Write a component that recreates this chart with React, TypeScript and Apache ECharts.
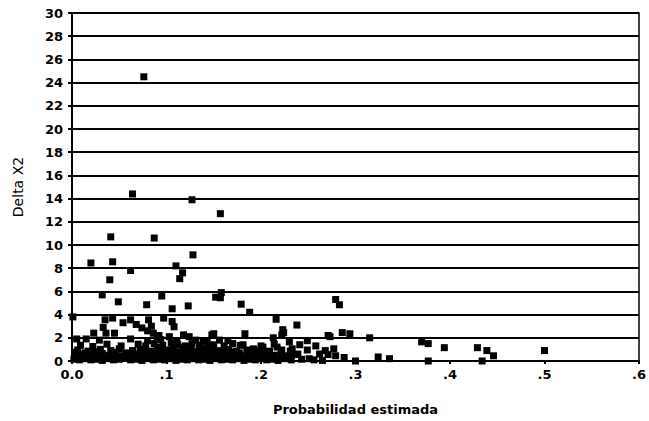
import React, { useEffect, useRef } from "react";
import * as echarts from "echarts";

const xTicks = [0, 0.1, 0.2, 0.3, 0.4, 0.5, 0.6];
const xTickLabels = ["0.0", ".1", ".2", ".3", ".4", ".5", ".6"];
const yMin = 0;
const yMax = 30;
const yStep = 2;

const outlierPoints: [number, number][] = [
  [0.076, 24.5], [0.064, 14.4], [0.127, 13.9], [0.157, 12.7], [0.041, 10.7], [0.087, 10.6],
  [0.02, 8.45], [0.043, 8.55], [0.062, 7.8], [0.11, 8.2], [0.128, 9.15], [0.117, 7.6],
  [0.114, 7.1], [0.04, 7.0], [0.032, 5.7], [0.049, 5.1], [0.079, 4.85], [0.095, 5.6],
  [0.106, 4.5], [0.123, 4.75], [0.152, 5.5], [0.157, 5.45], [0.158, 5.9], [0.179, 4.9],
  [0.188, 4.2], [0.216, 3.6], [0.238, 3.1], [0.279, 5.3], [0.283, 4.85],
  [0.001, 3.8], [0.035, 3.55], [0.043, 3.7], [0.054, 3.3], [0.062, 3.55], [0.081, 3.55],
  [0.097, 3.7], [0.106, 3.4], [0.033, 2.9], [0.068, 3.15], [0.074, 2.85], [0.08, 2.6],
  [0.086, 2.4], [0.092, 2.2], [0.023, 2.4], [0.005, 1.9], [0.015, 1.9], [0.029, 1.8],
  [0.036, 2.4], [0.045, 2.4], [0.062, 1.9], [0.09, 2.1], [0.103, 2.1], [0.118, 2.25],
  [0.124, 2.1], [0.148, 2.25], [0.084, 3.0], [0.108, 2.95], [0.15, 2.35],
  [0.224, 2.45], [0.271, 2.2], [0.286, 2.45], [0.294, 2.35], [0.315, 2.0], [0.37, 1.65],
  [0.377, 1.5], [0.394, 1.15], [0.429, 1.15], [0.439, 0.9], [0.446, 0.45], [0.5, 0.9],
  [0.324, 0.35], [0.336, 0.2], [0.377, 0.0], [0.434, 0.0],
  [0.183, 2.35], [0.213, 2.0], [0.222, 2.25], [0.223, 2.7], [0.23, 1.65], [0.181, 1.4],
  [0.192, 1.05], [0.202, 1.2], [0.217, 1.2], [0.273, 2.1], [0.241, 1.4], [0.249, 1.75],
  [0.258, 1.3], [0.268, 0.9], [0.277, 1.05], [0.279, 0.45], [0.271, 0.55], [0.239, 0.6],
  [0.249, 0.95], [0.251, 0.2], [0.288, 0.3], [0.3, 0.0], [0.233, 1.05],
];

const lowRow: [number, number][] = [
  [0.002, 0.15], [0.008, 0.1], [0.014, 0.2], [0.02, 0.1], [0.026, 0.15], [0.032, 0.05],
  [0.038, 0.2], [0.044, 0.1], [0.05, 0.15], [0.056, 0.25], [0.062, 0.1], [0.068, 0.15],
  [0.074, 0.05], [0.08, 0.2], [0.086, 0.1], [0.092, 0.15], [0.098, 0.1], [0.104, 0.2],
  [0.11, 0.05], [0.116, 0.15], [0.122, 0.1], [0.128, 0.2], [0.134, 0.1], [0.14, 0.15],
  [0.146, 0.05], [0.152, 0.2], [0.158, 0.1], [0.164, 0.15], [0.17, 0.1], [0.176, 0.2],
  [0.182, 0.05], [0.188, 0.15], [0.194, 0.1], [0.2, 0.2], [0.206, 0.1], [0.212, 0.15],
  [0.218, 0.05], [0.225, 0.2], [0.232, 0.1], [0.243, 0.15], [0.256, 0.1], [0.265, 0.05],
];

const lowMidRow: [number, number][] = [
  [0.005, 0.3], [0.013, 0.35], [0.021, 0.3], [0.029, 0.35], [0.037, 0.3], [0.045, 0.35],
  [0.053, 0.3], [0.061, 0.35], [0.069, 0.3], [0.077, 0.35], [0.085, 0.3], [0.093, 0.35],
  [0.101, 0.3], [0.109, 0.35], [0.117, 0.3], [0.125, 0.35], [0.133, 0.3], [0.141, 0.35],
  [0.149, 0.3], [0.157, 0.35], [0.165, 0.3], [0.173, 0.35], [0.181, 0.3], [0.189, 0.35],
  [0.197, 0.3], [0.205, 0.35], [0.213, 0.3], [0.221, 0.35], [0.229, 0.3],
];

const midRow: [number, number][] = [
  [0.004, 0.5], [0.011, 0.6], [0.018, 0.45], [0.025, 0.55], [0.032, 0.65], [0.039, 0.5],
  [0.046, 0.6], [0.053, 0.45], [0.06, 0.55], [0.067, 0.6], [0.074, 0.5], [0.081, 0.55],
  [0.088, 0.65], [0.095, 0.5], [0.102, 0.6], [0.109, 0.45], [0.116, 0.55], [0.123, 0.6],
  [0.13, 0.5], [0.137, 0.6], [0.144, 0.45], [0.151, 0.55], [0.158, 0.6], [0.165, 0.5],
  [0.172, 0.55], [0.179, 0.45], [0.186, 0.6], [0.193, 0.5], [0.2, 0.55], [0.207, 0.65],
  [0.214, 0.5], [0.221, 0.6], [0.228, 0.45], [0.236, 0.55], [0.262, 0.6],
];

const midUpperRow: [number, number][] = [
  [0.003, 0.75], [0.014, 0.7], [0.024, 0.8], [0.044, 0.75], [0.057, 0.7], [0.078, 0.75],
  [0.097, 0.8], [0.105, 0.7], [0.113, 0.8], [0.121, 0.75], [0.129, 0.7], [0.138, 0.8],
  [0.146, 0.75], [0.153, 0.7], [0.161, 0.8], [0.169, 0.75], [0.177, 0.7], [0.19, 0.75],
  [0.203, 0.8],
];

const upperRow: [number, number][] = [
  [0.006, 0.95], [0.017, 0.85], [0.03, 1.0], [0.041, 0.9], [0.05, 1.05], [0.064, 0.9],
  [0.072, 1.0], [0.083, 0.85], [0.091, 1.0], [0.1, 0.95], [0.107, 1.05], [0.119, 0.9],
  [0.126, 1.0], [0.133, 0.85], [0.141, 1.05], [0.149, 0.95], [0.156, 0.9], [0.166, 1.0],
  [0.174, 0.85], [0.185, 0.95], [0.197, 0.9], [0.209, 0.85], [0.222, 0.95], [0.231, 0.85],
];

const topRow: [number, number][] = [
  [0.009, 1.35], [0.022, 1.25], [0.037, 1.45], [0.052, 1.3], [0.07, 1.45], [0.078, 1.3],
  [0.087, 1.5], [0.096, 1.35], [0.105, 1.55], [0.112, 1.4], [0.12, 1.3], [0.127, 1.5],
  [0.135, 1.35], [0.143, 1.6], [0.15, 1.4], [0.161, 1.3], [0.17, 1.5], [0.178, 1.35],
  [0.2, 1.3], [0.214, 1.45], [0.08, 1.75], [0.094, 1.85], [0.111, 1.7], [0.131, 1.8],
  [0.139, 1.7], [0.156, 1.8], [0.165, 1.75], [0.118, 1.15], [0.146, 1.2], [0.09, 1.2],
];

export default function App() {
  const ref = useRef<HTMLDivElement>(null);
  useEffect(() => {
    if (!ref.current) return;
    const chart = echarts.init(ref.current, null, { renderer: "svg" });
    const font = "'DejaVu Sans', Arial, sans-serif";
    chart.setOption({
      animation: false,
      backgroundColor: "#ffffff",
      grid: {
        left: 72,
        right: 4,
        top: 13,
        bottom: 59,
        show: true,
        borderColor: "#000",
        borderWidth: 1.5,
      },
      xAxis: {
        type: "value",
        min: 0,
        max: 0.6,
        interval: 0.1,
        name: "Probabilidad estimada",
        nameLocation: "middle",
        nameGap: 42,
        nameTextStyle: { fontFamily: font, fontSize: 13, fontWeight: "bold", color: "#000" },
        axisLine: { show: true, lineStyle: { color: "#000", width: 2 } },
        axisTick: { show: true, length: 3, lineStyle: { color: "#000", width: 2 } },
        axisLabel: {
          margin: 7,
          fontFamily: font,
          fontSize: 13,
          fontWeight: "bold",
          color: "#000",
          formatter: (v: number) => {
            const i = xTicks.findIndex((t) => Math.abs(t - v) < 1e-6);
            return i >= 0 ? xTickLabels[i] : "";
          },
        },
        splitLine: { show: false },
      },
      yAxis: {
        type: "value",
        min: yMin,
        max: yMax,
        interval: yStep,
        name: "Delta X2",
        nameLocation: "middle",
        nameGap: 47,
        nameTextStyle: { fontFamily: font, fontSize: 14, color: "#000" },
        axisLine: { show: true, lineStyle: { color: "#000", width: 2 } },
        axisTick: { show: true, length: 4, lineStyle: { color: "#000", width: 2 } },
        axisLabel: {
          margin: 9,
          fontFamily: font,
          fontSize: 13,
          fontWeight: "bold",
          color: "#000",
        },
        splitLine: { show: true, lineStyle: { color: "#000", width: 2 } },
      },
      series: [
        {
          type: "scatter",
          symbol: "rect",
          symbolSize: 7,
          itemStyle: { color: "#000", opacity: 1 },
          data: [
            ...lowRow,
            ...lowMidRow,
            ...midRow,
            ...midUpperRow,
            ...upperRow,
            ...topRow,
            ...outlierPoints,
          ],
        },
      ],
    });
    return () => chart.dispose();
  }, []);
  return <div ref={ref} style={{ width: 649, height: 421, position: "absolute", left: 0, top: 0 }} />;
}
